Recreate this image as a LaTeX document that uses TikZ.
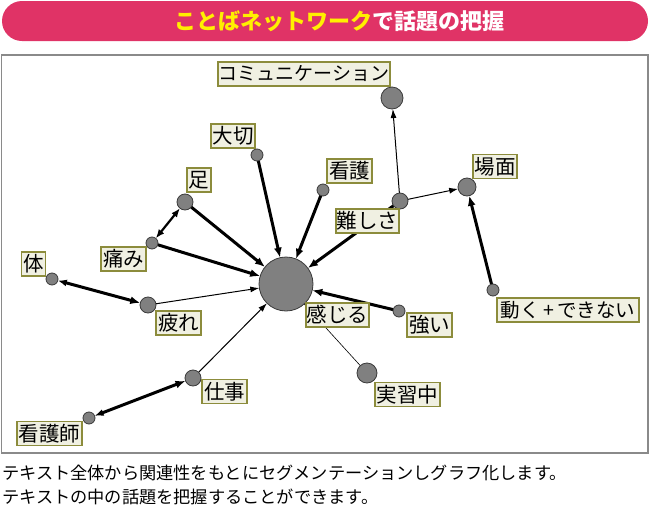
\documentclass[tikz,border=0pt]{standalone}
\usepackage{fontspec}
\newfontfamily\jp{Noto Sans CJK JP}
\usetikzlibrary{arrows.meta}
\pgfdeclarelayer{bg}
\pgfsetlayers{bg,main}
\definecolor{banner}{HTML}{E03366}
\definecolor{ttlyel}{HTML}{FFF000}
\definecolor{nodefill}{HTML}{808080}
\definecolor{nodeline}{HTML}{3A3A3A}
\definecolor{lblfill}{HTML}{F0F0E2}
\definecolor{lblline}{HTML}{8C8C3C}
\definecolor{framec}{HTML}{8A8A8A}
\begin{document}
\begin{tikzpicture}[x=1pt,y=-1pt,font=\jp,
  vtx/.style={circle,fill=nodefill,draw=nodeline,line width=0.8pt,inner sep=0pt,outer sep=0pt,minimum size=#1},
  lbl/.style={rectangle,fill=lblfill,draw=lblline,line width=1.2pt,inner sep=0pt,minimum height=24pt,minimum width=#1,font=\jp\fontsize{20.5}{20.5}\selectfont},
  heavy/.style={line width=3pt,-{Latex[length=10pt,width=8pt]}},
  heavyboth/.style={line width=3pt,{Latex[length=9pt,width=7pt]}-{Latex[length=10pt,width=8pt]}},
  midboth/.style={line width=2.2pt,{Latex[length=9pt,width=7pt]}-{Latex[length=9pt,width=7pt]}},
  light/.style={line width=1pt,-{Latex[length=9pt,width=6pt]}},
  plain/.style={line width=0.6pt}]
\useasboundingbox (0,0) rectangle (651,517);
% banner
\fill[banner,rounded corners=20pt] (2,1) rectangle (648,41);
\node[font=\jp\bfseries\fontsize{22}{22}\selectfont,inner sep=0pt] (title) at (339,21)
  {\textcolor{ttlyel}{ことばネットワーク}\textcolor{white}{で話題の把握}};
% frame
\draw[framec,line width=1.3pt] (1.5,55) rectangle (648,453);
% vertices
\node[vtx=54] (c) at (286,284) {};
\node[vtx=22] (comm) at (392,98) {};
\node[vtx=12] (dai) at (257,155) {};
\node[vtx=16] (ashi) at (185,202) {};
\node[vtx=12] (itami) at (152,243) {};
\node[vtx=12] (kango) at (323,190) {};
\node[vtx=16] (muzu) at (400,201) {};
\node[vtx=18] (bamen) at (467,187) {};
\node[vtx=12] (karada) at (52,279) {};
\node[vtx=16] (tsukare) at (148,305) {};
\node[vtx=16] (shigoto) at (193,378) {};
\node[vtx=12] (kangoshi) at (89,418) {};
\node[vtx=12] (tsuyoi) at (399,311) {};
\node[vtx=20] (jisshu) at (367,373) {};
\node[vtx=12] (ugoku) at (493,290) {};
% edges
\begin{pgfonlayer}{bg}
\draw[heavy] (dai) -- (c);
\draw[heavy] (kango) -- (c);
\draw[heavy] (ashi) -- (c);
\draw[heavy] (itami) -- (c);
\draw[heavy] (muzu) -- (c);
\draw[heavy] (tsuyoi) -- (c);
\draw[midboth] (itami) -- (ashi);
\draw[light] (muzu) -- (comm);
\draw[light] (muzu) -- (bamen);
\draw[heavy] (ugoku) -- (bamen);
\draw[heavyboth] (karada) -- (tsukare);
\draw[light] (tsukare) -- (c);
\draw[light] (shigoto) -- (c);
\draw[heavyboth] (kangoshi) -- (shigoto);
\draw[plain] (jisshu) -- (c);
\end{pgfonlayer}
% labels
\node[lbl=172,font=\jp\fontsize{19}{19}\selectfont] (lcomm) at (304,74) {コミュニケーション};
\node[lbl=44] (ldai) at (233,136) {大切};
\node[lbl=24] (lashi) at (199,180) {足};
\node[lbl=45] (litami) at (123.5,259) {痛み};
\node[lbl=45] (lkango) at (349.5,171) {看護};
\node[lbl=63] (lmuzu) at (367.5,221) {難しさ};
\node[lbl=44] (lbamen) at (495,166.5) {場面};
\node[lbl=24] (lkarada) at (33.5,264) {体};
\node[lbl=45] (ltsukare) at (178.5,323) {疲れ};
\node[lbl=45] (lshigoto) at (224.5,391.5) {仕事};
\node[lbl=65] (lkangoshi) at (49.5,433.5) {看護師};
\node[lbl=63] (lc) at (337.5,315) {感じる};
\node[lbl=45] (ltsuyoi) at (429.5,325) {強い};
\node[lbl=65] (ljisshu) at (407.5,394.5) {実習中};
\node[lbl=142,font=\jp\fontsize{19.5}{19.5}\selectfont] (lugoku) at (568,310) {動く\,+\,できない};
% caption
\node[anchor=west,inner sep=0pt,font=\jp\fontsize{17.2}{17.2}\selectfont] (cap1) at (2,473)
  {テキスト全体から関連性をもとにセグメンテーションしグラフ化します。};
\node[anchor=west,inner sep=0pt,font=\jp\fontsize{17.2}{17.2}\selectfont] (cap2) at (2,497)
  {テキストの中の話題を把握することができます。};
\end{tikzpicture}
\end{document}
